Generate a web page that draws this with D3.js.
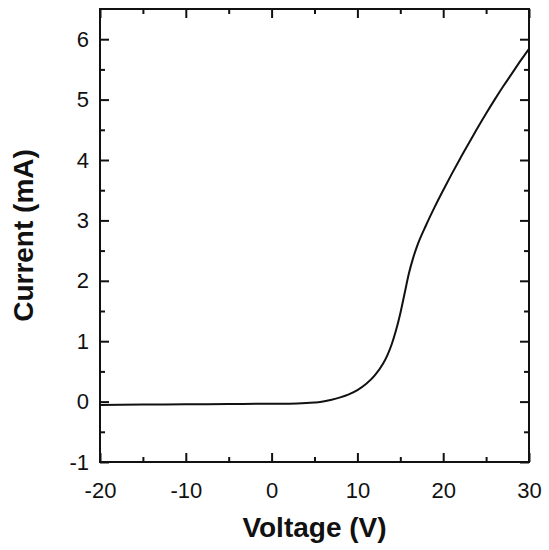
<!DOCTYPE html>
<html>
<head>
<meta charset="utf-8">
<script src="https://cdn.jsdelivr.net/npm/d3@7"></script>
<style>
  body { margin: 0; background: #fff; }
  text { font-family: Arial, "Liberation Sans", sans-serif; fill: #111; }
</style>
</head>
<body>
<div id="chart"></div>
<script>
var width = 549;
var height = 550;
var margin = {top: 9, right: 20, bottom: 88, left: 100};

// I-V curve
var voltage = [-20, -15, -10, -5, 0, 3, 5, 6, 7, 8, 9, 10, 11, 12, 13, 13.5, 14, 14.5, 15, 15.5,
               16, 16.5, 17, 18, 19, 20, 21, 22, 23, 24, 25, 26, 27, 28, 29, 30];
var current = [-0.055, -0.05, -0.045, -0.04, -0.035, -0.03, -0.015, 0.0, 0.03, 0.07, 0.12, 0.19, 0.29, 0.43, 0.63, 0.77, 0.95, 1.18, 1.46, 1.79,
               2.12, 2.38, 2.59, 2.92, 3.22, 3.50, 3.77, 4.03, 4.28, 4.53, 4.77, 5.00, 5.22, 5.43, 5.64, 5.84];

var xTicks = [-20, -10, 0, 10, 20, 30];
var yTicks = [-1, 0, 1, 2, 3, 4, 5, 6];
var xMinor = [-15, -5, 5, 15, 25];
var yMinor = [-0.5, 0.5, 1.5, 2.5, 3.5, 4.5, 5.5];

var data = voltage.map(function(v, i) { return {v: v, i: current[i]}; });

// plain hyphen for negatives, like the original
var fmt = function(d) { return String(d); };

var svg = d3.select("#chart")
            .append("svg")
            .attr("width", width)
            .attr("height", height);

var x = d3.scaleLinear()
          .domain([-20, 30])
          .range([margin.left, width - margin.right]);

var y = d3.scaleLinear()
          .domain([-1, 6.5])
          .range([height - margin.bottom, margin.top]);

var x0 = x.range()[0], x1 = x.range()[1];
var y0 = y.range()[0], y1 = y.range()[1];

// ticks point inward on all four sides
function tickStyle(g) {
  g.select(".domain").remove();
  g.selectAll(".tick line").attr("stroke", "#111").attr("stroke-width", 2);
}

svg.append("g")
   .attr("transform", "translate(0," + y0 + ")")
   .call(d3.axisBottom(x).tickValues(xTicks).tickSize(-9).tickPadding(20).tickFormat(fmt))
   .call(tickStyle)
   .selectAll("text").style("font-size", "22px").attr("fill", "#111");

svg.append("g")
   .attr("transform", "translate(0," + y0 + ")")
   .call(d3.axisBottom(x).tickValues(xMinor).tickSize(-5).tickFormat(""))
   .call(tickStyle);

svg.append("g")
   .attr("transform", "translate(0," + y1 + ")")
   .call(d3.axisTop(x).tickValues(xTicks).tickSize(-9).tickFormat(""))
   .call(tickStyle);

svg.append("g")
   .attr("transform", "translate(0," + y1 + ")")
   .call(d3.axisTop(x).tickValues(xMinor).tickSize(-5).tickFormat(""))
   .call(tickStyle);

svg.append("g")
   .attr("transform", "translate(" + x0 + ",0)")
   .call(d3.axisLeft(y).tickValues(yTicks).tickSize(-9).tickPadding(11).tickFormat(fmt))
   .call(tickStyle)
   .selectAll("text").style("font-size", "22px").attr("fill", "#111");

svg.append("g")
   .attr("transform", "translate(" + x0 + ",0)")
   .call(d3.axisLeft(y).tickValues(yMinor).tickSize(-5).tickFormat(""))
   .call(tickStyle);

svg.append("g")
   .attr("transform", "translate(" + x1 + ",0)")
   .call(d3.axisRight(y).tickValues(yTicks).tickSize(-9).tickFormat(""))
   .call(tickStyle);

svg.append("g")
   .attr("transform", "translate(" + x1 + ",0)")
   .call(d3.axisRight(y).tickValues(yMinor).tickSize(-5).tickFormat(""))
   .call(tickStyle);

// frame
svg.append("rect")
   .attr("x", x0).attr("y", y1)
   .attr("width", x1 - x0).attr("height", y0 - y1)
   .attr("fill", "none").attr("stroke", "#111").attr("stroke-width", 2);

var line = d3.line()
             .x(function(d) { return x(d.v); })
             .y(function(d) { return y(d.i); })
             .curve(d3.curveMonotoneX);

svg.append("path")
   .datum(data)
   .attr("d", line)
   .attr("fill", "none")
   .attr("stroke", "#111")
   .attr("stroke-width", 2);

svg.append("text")
   .attr("x", (x0 + x1) / 2)
   .attr("y", 537)
   .attr("text-anchor", "middle")
   .style("font-size", "28px").style("font-weight", "bold")
   .text("Voltage (V)");

svg.append("text")
   .attr("transform", "translate(33," + ((y0 + y1) / 2) + ") rotate(-90)")
   .attr("text-anchor", "middle")
   .style("font-size", "28px").style("font-weight", "bold")
   .text("Current (mA)");
</script>
</body>
</html>
